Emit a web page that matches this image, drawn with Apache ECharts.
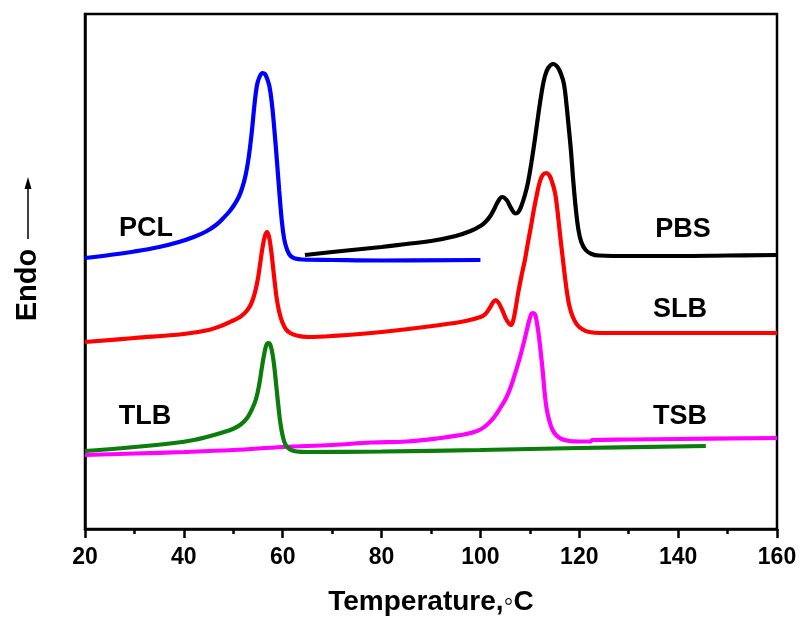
<!DOCTYPE html>
<html><head><meta charset="utf-8">
<script src="https://cdn.jsdelivr.net/npm/echarts@6/dist/echarts.min.js"></script>
<style>html,body{margin:0;padding:0;background:#fff}#c{width:803px;height:621px}</style>
</head><body><div id="c"></div>
<script>
// Temperature (°C), heat flow (arbitrary units, curves offset vertically)
const xTicks = [20, 40, 60, 80, 100, 120, 140, 160];
const PCL = [[20,271],[25,274],[30,277.5],[35,282],[39,287],[42,292],[44.5,297.5],[46.5,304],[48,311],[49.3,318],[50.3,325],[51.1,332],[51.8,341],[52.5,354],[53.1,371],[53.7,395],[54.3,425],[54.8,444],[55.3,452],[55.9,456],[56.4,455],[56.8,451],[57.3,443],[57.8,426],[58.3,400],[58.8,370],[59.3,338],[59.8,309],[60.3,290],[60.9,279],[61.6,273],[62.5,270.5],[64,269.5],[70,269],[80,268.5],[100,269]];
const PBS = [[64.5,274],[72,278],[80,282],[85,285],[90,288],[95,293],[98,298],[100,303],[101,307],[102,313],[102.8,320],[103.5,327],[104.4,332],[105.3,329],[106.3,320],[107.1,315.5],[107.6,316.5],[108.2,322],[109,334],[109.6,346],[110.3,366],[111,389],[111.7,414],[112.4,437],[113,452],[113.7,461],[114.7,465],[115.6,462],[116.3,455],[116.9,445],[117.4,425],[117.8,405],[118.3,379],[118.8,347],[119.3,320],[119.8,300],[120.4,287],[121.3,279],[122.5,275],[124,273.5],[130,273],[140,273],[150,273.5],[160,274]];
const SLB = [[20,187],[30,191],[40,195],[45,199],[48,204],[50,208.5],[51.5,212.5],[52.7,218],[53.6,225],[54.3,235],[54.9,248],[55.4,264],[55.9,281],[56.4,293],[56.8,297],[57.2,293],[57.6,281],[58,264],[58.4,246],[58.8,230],[59.3,217],[59.9,207],[60.6,200],[61.5,196],[62.8,193.5],[65,192],[70,193],[80,197],[91.8,204],[97,208],[100,212],[101,215],[102,222],[102.6,227],[103.1,229],[103.7,226],[104.5,218],[105.3,209],[106.2,204],[106.6,208],[107.1,220],[107.6,235],[108.3,253],[109,269],[109.6,286],[110.2,302],[110.8,319],[111.4,334],[112,347],[112.6,354],[113.3,356],[113.9,354],[114.5,347],[115.1,336],[115.5,322],[115.9,304],[116.3,286],[116.7,269],[117.1,252],[117.5,237],[118,223],[118.7,212],[119.6,204],[120.7,199.5],[122,197],[124.2,196],[140,196],[160,196]];
const TSB = [[20,74],[30,75.5],[40,77],[50,79],[60,82],[70,84],[78,86.5],[85,87.5],[92,91],[96,94],[98,96],[100,99.5],[101.5,105],[102.8,112],[104,121],[105.2,131],[106.2,143],[107.1,157],[107.9,170],[108.6,183],[109.3,197],[109.9,209],[110.5,216],[111,215],[111.4,207],[111.8,194],[112.2,177],[112.6,158],[113,136],[113.4,120],[113.9,109],[114.5,100],[115.3,94],[116.4,90],[118,88],[120,87.5],[122.3,87.5],[122.6,89],[130,89.5],[140,90],[160,91]];
const TLB = [[20,78],[30,82],[38,86],[42,89],[45,92.5],[47.5,96],[49.9,100],[51.5,104.5],[52.8,111],[53.8,120],[54.6,130],[55.3,146],[55.8,162],[56.3,176],[56.7,184],[57.1,186],[57.5,184],[57.9,176],[58.3,162],[58.7,143],[59.1,124],[59.5,107],[60,93],[60.6,84],[61.5,79.5],[62.8,77.5],[65,77],[80,77.5],[100,79],[120,81],[145.6,83]];
const names = ['PCL','PBS','SLB','TSB','TLB'];
const colors = ['#0000ff','#000000','#ff0000','#ff00ff','#0a7d0a'];
const datasets = [PCL, PBS, SLB, TSB, TLB];

const FONT = '"Liberation Sans", Arial, sans-serif';
const chart = echarts.init(document.getElementById('c'));
const series = datasets.map((d, i) => ({
  name: names[i], type: 'line', data: d, showSymbol: false, smooth: 0.4,
  lineStyle: { color: colors[i], width: 4.2 }, z: 2 + i
}));
const labels = [
  { t: 'PCL', x: 146, y: 229 }, { t: 'PBS', x: 683, y: 230 },
  { t: 'SLB', x: 680, y: 310 }, { t: 'TLB', x: 145, y: 417 },
  { t: 'TSB', x: 680, y: 417 }
];
chart.setOption({
  animation: false,
  grid: { left: 85, right: 26, top: 14, bottom: 92, show: true, borderColor: '#000', borderWidth: 2.5 },
  xAxis: {
    type: 'value', min: 20, max: 160, interval: 20,
    name: 'Temperature,\u25E6C', nameLocation: 'middle', nameGap: 59,
    nameTextStyle: { fontFamily: FONT, fontWeight: 'bold', fontSize: 28, color: '#000' },
    axisLine: { lineStyle: { color: '#000', width: 2.5 } },
    axisTick: { show: true, length: 9, lineStyle: { width: 2.5, color: '#000' } },
    minorTick: { show: true, splitNumber: 2, length: 5, lineStyle: { width: 2.5, color: '#000' } },
    axisLabel: { fontFamily: FONT, fontWeight: 'bold', fontSize: 23, color: '#000', margin: 17 },
    splitLine: { show: false }
  },
  yAxis: {
    type: 'value', min: 0, max: 515,
    axisLine: { show: true, lineStyle: { color: '#000', width: 2.5 } },
    axisTick: { show: false }, axisLabel: { show: false }, splitLine: { show: false }
  },
  graphic: labels.map(l => ({
    type: 'text', x: l.x, y: l.y,
    style: { text: l.t, font: 'bold 27px ' + FONT, fill: '#000', textAlign: 'center', textVerticalAlign: 'middle' }
  })).concat([
    { type: 'text', x: 28, y: 285, rotation: Math.PI / 2,
      style: { text: 'Endo', font: 'bold 29px ' + FONT, fill: '#000', textAlign: 'center', textVerticalAlign: 'middle' } },
    { type: 'line', shape: { x1: 28, y1: 239, x2: 28, y2: 186 }, style: { stroke: '#000', lineWidth: 1.5 } },
    { type: 'polygon', shape: { points: [[28, 177], [24.5, 189], [31.5, 189]] }, style: { fill: '#000' } }
  ]),
  series
});
</script></body></html>
